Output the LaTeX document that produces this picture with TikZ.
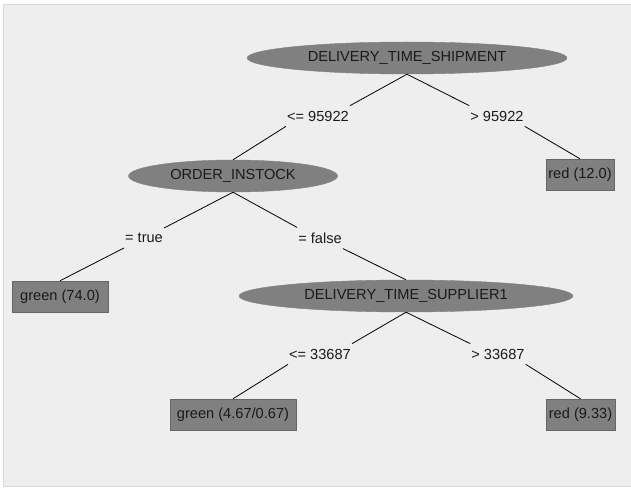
\documentclass[tikz,border=0pt]{standalone}
\usepackage{fontspec}
\setmainfont{Liberation Sans}
\usetikzlibrary{shapes.geometric}
\definecolor{panel}{HTML}{EEEEEE}
\definecolor{panelrim}{HTML}{D9D9D9}
\definecolor{nodegray}{HTML}{808080}
\definecolor{boxrim}{HTML}{666666}
\definecolor{ink}{HTML}{1A1A1A}
\tikzset{
  lbl/.style={text=ink, font=\fontsize{14.6}{17}\selectfont},
  attr/.style={lbl, ellipse, fill=nodegray, draw=nodegray, inner sep=0pt,
    minimum height=32pt},
  leaf/.style={lbl, rectangle, fill=nodegray, draw=boxrim, inner sep=0pt,
    minimum height=31pt},
  cond/.style={lbl, inner xsep=1pt, inner ysep=5pt},
  edge/.style={draw=black, line width=0.8pt}
}
\begin{document}
\begin{tikzpicture}[x=1pt,y=1pt]
  \useasboundingbox (0,0) rectangle (631,-489);
  \fill[white] (0,0) rectangle (631,-489);
  \filldraw[fill=panel, draw=panelrim] (3.5,-4.5) rectangle (631,-486.5);

  % decision nodes
  \node[attr, minimum width=320pt] (ship) at (407,-58) {DELIVERY\_TIME\_SHIPMENT};
  \node[attr, minimum width=209pt] (stock) at (233,-176) {ORDER\_INSTOCK};
  \node[attr, minimum width=334pt] (supp) at (406,-296) {DELIVERY\_TIME\_SUPPLIER1};

  % leaves
  \node[leaf, minimum width=68pt] (red12) at (580,-174.5) {red (12.0)};
  \node[leaf, minimum width=96pt] (green74) at (60,-296.5) {green (74.0)};
  \node[leaf, minimum width=126pt] (green467) at (233,-414.5) {green (4.67/0.67)};
  \node[leaf, minimum width=69pt] (red933) at (580.5,-414.5) {red (9.33)};

  % branch conditions
  \node[cond] (le1) at (318,-116) {<= 95922};
  \node[cond] (gt1) at (497,-116) {> 95922};
  \node[cond] (tr) at (144,-238) {= true};
  \node[cond] (fa) at (320,-238) {= false};
  \node[cond] (le2) at (320,-354) {<= 33687};
  \node[cond] (gt2) at (498,-354) {> 33687};

  % connectors
  \draw[edge] (ship.south) -- (le1.north east);
  \draw[edge] (ship.south) -- (gt1.north west);
  \draw[edge] (le1.south west) -- (stock.north);
  \draw[edge] (gt1.south east) -- (red12.north);
  \draw[edge] (stock.south) -- (tr.north east);
  \draw[edge] (stock.south) -- (fa.north west);
  \draw[edge] (tr.south west) -- (green74.north);
  \draw[edge] (fa.south east) -- (supp.north);
  \draw[edge] (supp.south) -- (le2.north east);
  \draw[edge] (supp.south) -- (gt2.north west);
  \draw[edge] (le2.south west) -- (green467.north);
  \draw[edge] (gt2.south east) -- (red933.north);
\end{tikzpicture}
\end{document}
